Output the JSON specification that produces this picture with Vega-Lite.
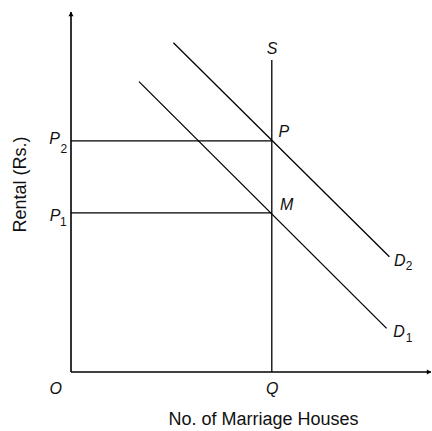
{
  "$schema": "https://vega.github.io/schema/vega-lite/v6.json",
  "autosize": "none",
  "width": 360,
  "height": 372,
  "padding": {"left": 71, "top": 0, "right": 1, "bottom": 59},
  "background": "white",
  "config": {"view": {"stroke": null}},
  "datasets": {
    "axes": [
      {"x": 0, "y": 0, "x2": 0, "y2": 9.0},
      {"x": 0, "y": 0, "x2": 9.0, "y2": 0}
    ],
    "curves": [
      {"name": "S", "x": 5.02, "y": 0, "x2": 5.02, "y2": 7.8},
      {"name": "D2", "x": 2.56, "y": 8.23, "x2": 7.96, "y2": 2.88},
      {"name": "D1", "x": 1.7, "y": 7.26, "x2": 7.89, "y2": 1.09},
      {"name": "P2", "x": 0, "y": 5.78, "x2": 5.02, "y2": 5.78},
      {"name": "P1", "x": 0, "y": 3.98, "x2": 5.02, "y2": 3.98}
    ],
    "arrows": [
      {"dir": "up", "x": 0, "y": 8.95},
      {"dir": "right", "x": 8.95, "y": 0}
    ],
    "labels": [
      {"label": "S", "x": 5.03, "y": 8.08},
      {"label": "P", "x": 5.32, "y": 5.99},
      {"label": "M", "x": 5.39, "y": 4.18},
      {"label": "D", "x": 8.22, "y": 2.78},
      {"label": "D", "x": 8.2, "y": 0.99},
      {"label": "P", "x": -0.41, "y": 5.83},
      {"label": "P", "x": -0.4, "y": 3.91},
      {"label": "O", "x": -0.38, "y": -0.43},
      {"label": "Q", "x": 5.03, "y": -0.43}
    ],
    "subs": [
      {"label": "2", "x": 8.45, "y": 2.66},
      {"label": "1", "x": 8.45, "y": 0.86},
      {"label": "2", "x": -0.18, "y": 5.58},
      {"label": "1", "x": -0.19, "y": 3.75}
    ]
  },
  "layer": [
    {
      "data": {"name": "axes"},
      "mark": {"type": "rule", "color": "black", "strokeWidth": 1.6},
      "encoding": {
        "x": {"field": "x", "type": "quantitative", "scale": {"domain": [0, 9], "nice": false, "zero": false},
          "axis": {"domain": false, "ticks": false, "labels": false, "grid": false,
            "title": "No. of Marriage Houses", "titleFont": "Liberation Sans", "titleFontSize": 18,
            "titleFontWeight": "normal", "titleColor": "#111", "titleX": 192, "titleY": 47,
            "titleAlign": "center", "titleBaseline": "middle"}},
        "y": {"field": "y", "type": "quantitative", "scale": {"domain": [0, 9.3], "nice": false, "zero": false},
          "axis": {"domain": false, "ticks": false, "labels": false, "grid": false,
            "title": "Rental (Rs.)", "titleFont": "Liberation Sans", "titleFontSize": 18,
            "titleFontWeight": "normal", "titleColor": "#111", "titleX": -51, "titleY": 184,
            "titleAngle": -90, "titleAlign": "center", "titleBaseline": "middle"}},
        "x2": {"field": "x2"},
        "y2": {"field": "y2"}
      }
    },
    {
      "data": {"name": "curves"},
      "mark": {"type": "rule", "color": "black", "strokeWidth": 1.3},
      "encoding": {
        "x": {"field": "x", "type": "quantitative"},
        "y": {"field": "y", "type": "quantitative"},
        "x2": {"field": "x2"},
        "y2": {"field": "y2"}
      }
    },
    {
      "data": {"name": "arrows"},
      "mark": {"type": "point", "filled": true, "color": "black", "size": 25, "opacity": 1},
      "encoding": {
        "x": {"field": "x", "type": "quantitative"},
        "y": {"field": "y", "type": "quantitative"},
        "shape": {"field": "dir", "type": "nominal", "scale": {"domain": ["up", "right"], "range": ["triangle-up", "triangle-right"]}, "legend": null}
      }
    },
    {
      "data": {"name": "labels"},
      "mark": {"type": "text", "font": "Liberation Sans", "fontSize": 16, "fontStyle": "italic", "color": "#111", "align": "center", "baseline": "middle"},
      "encoding": {
        "x": {"field": "x", "type": "quantitative"},
        "y": {"field": "y", "type": "quantitative"},
        "text": {"field": "label"}
      }
    },
    {
      "data": {"name": "subs"},
      "mark": {"type": "text", "font": "Liberation Sans", "fontSize": 12, "color": "#111", "align": "center", "baseline": "middle"},
      "encoding": {
        "x": {"field": "x", "type": "quantitative"},
        "y": {"field": "y", "type": "quantitative"},
        "text": {"field": "label"}
      }
    }
  ]
}
